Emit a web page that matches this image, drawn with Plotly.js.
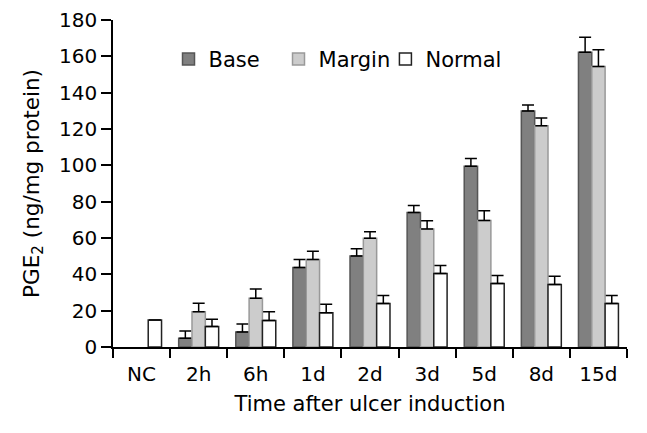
<!DOCTYPE html>
<html>
<head>
<meta charset="utf-8">
<script src="https://cdn.plot.ly/plotly-3.0.1.min.js"></script>
<style>body{margin:0;background:#fff}#plot{width:647px;height:433px}</style>
</head>
<body>
<div id="plot"></div>
<script>
const groups = ['NC', '2h', '6h', '1d', '2d', '3d', '5d', '8d', '15d'];
const baseVals = [null, 4.8, 8.2, 43.7, 50.1, 74.1, 99.5, 129.9, 162.3];
const baseErr = [0, 4, 4.4, 4.4, 4, 3.8, 4.2, 3.3, 8.2];
const marginVals = [null, 19.4, 26.9, 48.1, 59.8, 64.9, 69.7, 121.8, 154.4];
const marginErr = [0, 4.7, 5, 4.6, 3.7, 4.6, 5.3, 4.2, 9.2];
const normalVals = [14.8, 11.3, 14.6, 18.8, 24, 40.4, 35, 34.4, 24];
const normalErr = [0, 4, 4.8, 4.8, 4.4, 4.4, 4.4, 4.6, 4.4];

const font = 'DejaVu Sans, Verdana, sans-serif';

function series(name, vals, errs, fill, edge, leg) {
  return {
    type: 'bar', name: name, x: groups, y: vals, legend: leg,
    marker: {color: fill, line: {color: edge, width: 1.5}},
    error_y: {type: 'data', symmetric: false, array: errs,
              arrayminus: errs.map(() => 0), color: '#000', thickness: 1.5, width: 6}
  };
}

const data = [
  series('Base', baseVals, baseErr, '#808080', '#555555', 'legend'),
  series('Margin', marginVals, marginErr, '#cccccc', '#999999', 'legend2'),
  series('Normal', normalVals, normalErr, '#ffffff', '#222222', 'legend3')
];

function leg(x) {
  return {orientation: 'h', x: x, y: 0.88, xanchor: 'left', yanchor: 'middle',
          font: {family: font, size: 21}, bgcolor: 'rgba(0,0,0,0)'};
}

const layout = {
  width: 647, height: 433,
  margin: {l: 113, r: 20, t: 20, b: 86},
  paper_bgcolor: '#fff', plot_bgcolor: '#fff',
  font: {family: font, size: 20, color: '#000'},
  barmode: 'group', bargap: 0.3, bargroupgap: 0,
  showlegend: true,
  legend: leg(0.108), legend2: leg(0.322), legend3: leg(0.53),
  xaxis: {
    type: 'category', tickson: 'boundaries', ticks: 'outside', ticklen: 9, tickwidth: 1.5,
    tickcolor: '#000', showline: true, linecolor: '#000', linewidth: 1.5,
    showgrid: false, zeroline: false, ticklabelstandoff: 8,
    tickfont: {family: font, size: 20},
    title: {text: 'Time after ulcer induction', font: {family: font, size: 21}, standoff: 12}
  },
  yaxis: {
    range: [0, 180], dtick: 20, ticks: 'outside', ticklen: 10, tickwidth: 1.5,
    tickcolor: '#000', showline: true, linecolor: '#000', linewidth: 1.5,
    showgrid: false, zeroline: false,
    tickfont: {family: font, size: 20},
    title: {text: 'PGE<sub>2</sub> (ng/mg protein)', font: {family: font, size: 21.5}, standoff: 14}
  }
};

Plotly.newPlot('plot', data, layout, {displayModeBar: false});
</script>
</body>
</html>
